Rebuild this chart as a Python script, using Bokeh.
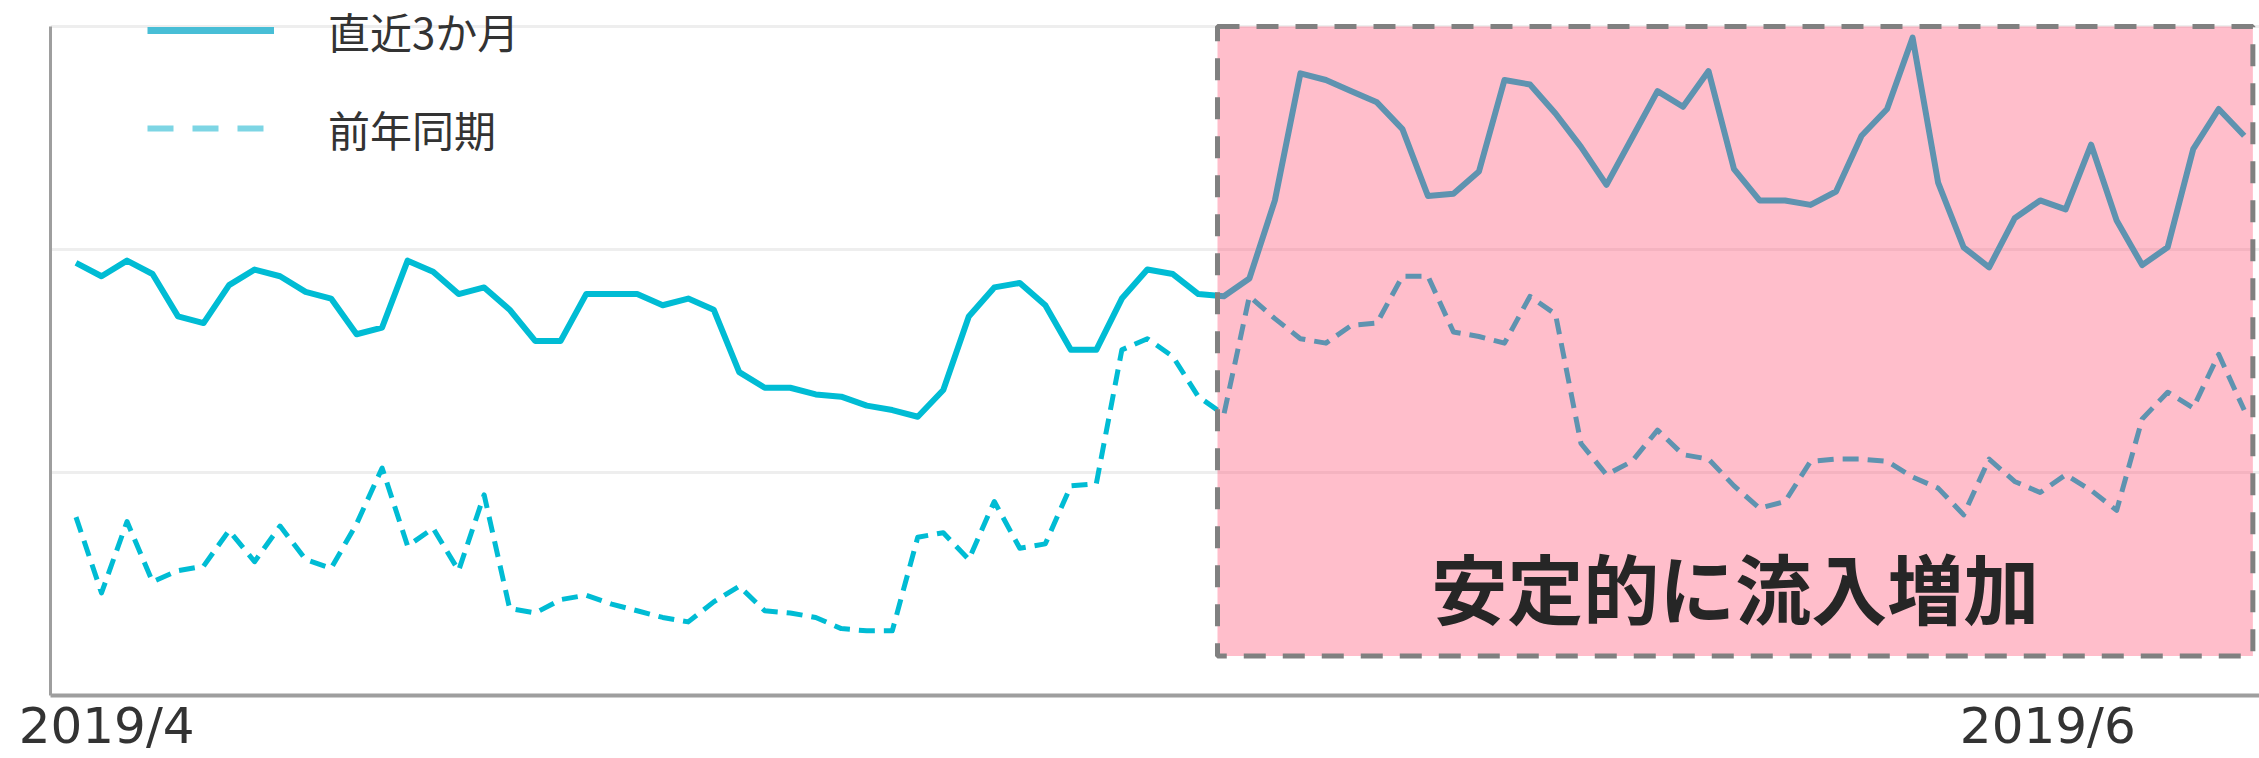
from bokeh.plotting import figure
from bokeh.models import Range1d, FixedTicker, BoxAnnotation, Label, Legend, LegendItem
from bokeh.embed import file_html
from bokeh.resources import INLINE

# ---- data (y in grid units, x = day index) ----
recent_3m = [1.94, 1.88, 1.95, 1.89, 1.70, 1.67, 1.84, 1.91, 1.88, 1.81,
             1.78, 1.62, 1.65, 1.95, 1.90, 1.80, 1.83, 1.73, 1.59, 1.59,
             1.80, 1.80, 1.80, 1.75, 1.78, 1.73, 1.45, 1.38, 1.38, 1.35,
             1.34, 1.30, 1.28, 1.25, 1.37, 1.70, 1.83, 1.85, 1.75, 1.55,
             1.55, 1.78, 1.91, 1.89, 1.80, 1.79, 1.87, 2.22, 2.79, 2.76,
             2.71, 2.66, 2.54, 2.24, 2.25, 2.35, 2.76, 2.74, 2.61, 2.46,
             2.29, 2.50, 2.71, 2.64, 2.80, 2.36, 2.22, 2.22, 2.20, 2.26,
             2.51, 2.63, 2.95, 2.30, 2.01, 1.92, 2.14, 2.22, 2.18, 2.47,
             2.13, 1.93, 2.01, 2.45, 2.63, 2.51]
prev_year = [0.80, 0.46, 0.78, 0.51, 0.56, 0.58, 0.74, 0.60, 0.76, 0.61,
             0.57, 0.77, 1.02, 0.67, 0.75, 0.56, 0.90, 0.39, 0.37, 0.43,
             0.45, 0.41, 0.38, 0.35, 0.33, 0.42, 0.49, 0.38, 0.37, 0.35,
             0.30, 0.29, 0.29, 0.71, 0.73, 0.61, 0.87, 0.66, 0.68, 0.94,
             0.95, 1.55, 1.60, 1.52, 1.34, 1.26, 1.79, 1.69, 1.60, 1.58,
             1.66, 1.67, 1.88, 1.88, 1.63, 1.61, 1.58, 1.79, 1.71, 1.13,
             0.99, 1.05, 1.19, 1.08, 1.06, 0.94, 0.84, 0.87, 1.05, 1.06,
             1.06, 1.05, 0.98, 0.93, 0.81, 1.06, 0.96, 0.91, 0.99, 0.92,
             0.83, 1.24, 1.36, 1.29, 1.53, 1.28]
day_index = list(range(len(recent_3m)))
legend_labels = ["直近3か月", "前年同期"]
tick_labels = ["2019/4", "2019/6"]
caption = "安定的に流入増加"

# ---- layout / style constants ----
tick_positions = [1.2, 77.3]
grid_levels = [0, 1, 2, 3]
y_top = 695 / 223.0          # leaves head-room above the top gridline for the legend
hl_left, hl_right, hl_bottom, hl_top = 44.75, 85.34, 0.177, 3.0
CYAN = "#00bcd4"
FONT = "Noto Sans CJK JP"
NAN = float("nan")

p = figure(width=2259, height=758, output_backend="svg", toolbar_location=None,
           x_range=Range1d(-1, 85.6), y_range=Range1d(0, y_top),
           min_border_left=50, min_border_right=0, min_border_top=0,
           min_border_bottom=63)
p.outline_line_color = None
p.background_fill_color = "white"
p.border_fill_color = "white"

r1 = p.line(day_index, recent_3m, line_color=CYAN, line_width=6, line_join="round")
r2 = p.line(day_index, prev_year, line_color=CYAN, line_width=5, line_dash="16 9",
            line_join="round")

box = BoxAnnotation(left=hl_left, right=hl_right, bottom=hl_bottom, top=hl_top,
                    fill_color="#ff5073", fill_alpha=0.37,
                    line_color="#808080", line_alpha=1.0, line_width=5,
                    line_dash="22 17")
p.add_layout(box)

p.add_layout(Label(x=(hl_left + hl_right) / 2, y=0.49, text=caption,
                   text_font=FONT, text_font_size="76px", text_font_style="bold",
                   text_color="#262626", text_align="center",
                   text_baseline="middle"))

# legend sample glyphs (styled separately from the plotted series)
d1 = p.line([NAN], [NAN], line_color="#48bed6", line_width=7)
d2 = p.line([NAN], [NAN], line_color="#7dd5e4", line_width=6, line_dash="26 19")
legend = Legend(items=[LegendItem(label=legend_labels[0], renderers=[d1]),
                       LegendItem(label=legend_labels[1], renderers=[d2])],
                location=(97, 527), orientation="vertical",
                glyph_width=127, glyph_height=80, label_height=80,
                label_standoff=54, spacing=18, padding=0, margin=0,
                border_line_color=None, background_fill_alpha=0,
                label_text_font=FONT, label_text_font_size="42px",
                label_text_color="#333333")
p.add_layout(legend)

# axes & grid
p.xgrid.visible = False
p.ygrid.ticker = FixedTicker(ticks=grid_levels)
p.ygrid.grid_line_color = "#eeeeee"
p.ygrid.grid_line_width = 3

p.yaxis.ticker = FixedTicker(ticks=[])
p.yaxis.bounds = (0, 3)
p.yaxis.axis_line_color = "#9e9e9e"
p.yaxis.axis_line_width = 3
p.yaxis.major_tick_line_color = None
p.yaxis.minor_tick_line_color = None

p.xaxis.ticker = FixedTicker(ticks=tick_positions)
p.xaxis.major_label_overrides = dict(zip(tick_positions, tick_labels))
p.xaxis.axis_line_color = "#9e9e9e"
p.xaxis.axis_line_width = 4
p.xaxis.major_tick_line_color = None
p.xaxis.minor_tick_line_color = None
p.xaxis.major_label_text_font = "DejaVu Sans"
p.xaxis.major_label_text_font_size = "50px"
p.xaxis.major_label_text_color = "#333333"
p.xaxis.major_label_standoff = -5

open("out.html", "w").write(file_html(p, INLINE))
